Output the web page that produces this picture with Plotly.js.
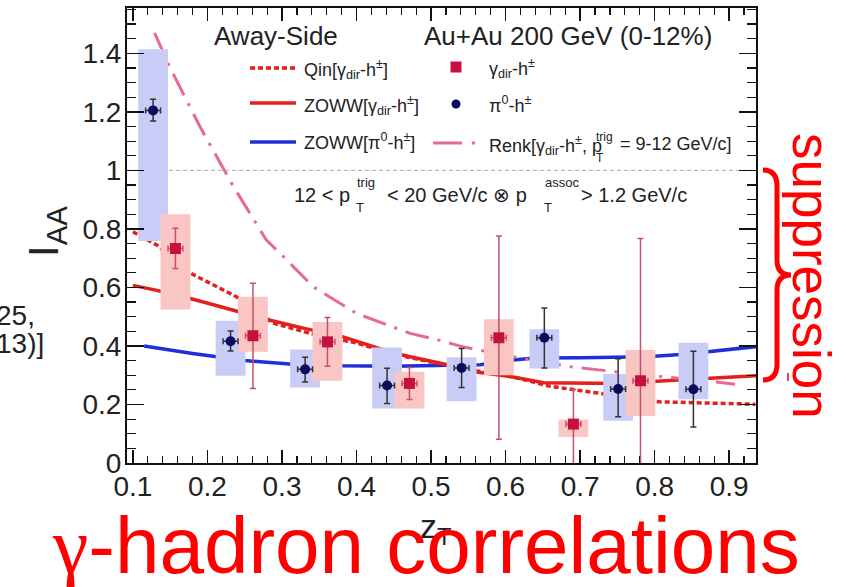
<!DOCTYPE html>
<html>
<head>
<meta charset="utf-8">
<script src="https://cdn.plot.ly/plotly-3.0.1.min.js"></script>
<style>html,body{margin:0;padding:0;background:#fff;}#chart{width:846px;height:587px;}</style>
</head>
<body>
<div id="chart"></div>
<script>
// ---------------- data ----------------
// pi0-h+- (navy circles)
const piZ      = [0.127, 0.231, 0.331, 0.441, 0.541, 0.652, 0.751, 0.852];
const piIAA    = [1.205, 0.416, 0.320, 0.265, 0.325, 0.428, 0.253, 0.252];
const piStatUp = [0.038, 0.035, 0.041, 0.059, 0.066, 0.102, 0.103, 0.130];
const piStatDn = [0.036, 0.033, 0.043, 0.062, 0.067, 0.103, 0.095, 0.129];
const piSysHi  = [1.414, 0.486, 0.388, 0.395, 0.361, 0.457, 0.304, 0.411];
const piSysLo  = [0.759, 0.298, 0.258, 0.186, 0.211, 0.323, 0.144, 0.218];
const piZErr   = [0.01, 0.01, 0.01, 0.01, 0.01, 0.01, 0.01, 0.01];

// gamma_dir-h+- (crimson squares)
const gZ      = [0.157, 0.261, 0.361, 0.471, 0.591, 0.691, 0.781];
const gIAA    = [0.733, 0.435, 0.414, 0.272, 0.428, 0.133, 0.281];
const gStatUp = [0.069, 0.179, 0.083, 0.054, 0.348, 0.118, 0.486];
const gStatDn = [0.068, 0.180, 0.083, 0.055, 0.347, 0.250, 0.400];
const gSysHi  = [0.850, 0.568, 0.482, 0.312, 0.491, 0.149, 0.386];
const gSysLo  = [0.525, 0.380, 0.281, 0.186, 0.300, 0.089, 0.161];
const gZErr   = [0.01, 0.01, 0.01, 0.01, 0.01, 0.01, 0.01];

// model curves
const qinZ  = [0.10, 0.132, 0.177, 0.208, 0.239, 0.288, 0.338, 0.40, 0.45, 0.50, 0.556, 0.61, 0.66, 0.727, 0.76, 0.807, 0.87, 0.935];
const qinI  = [0.79, 0.745, 0.649, 0.608, 0.568, 0.478, 0.443, 0.41, 0.372, 0.345, 0.317, 0.294, 0.262, 0.238, 0.225, 0.209, 0.205, 0.201];
const zgZ   = [0.10, 0.132, 0.177, 0.23, 0.284, 0.33, 0.382, 0.449, 0.525, 0.561, 0.61, 0.651, 0.70, 0.754, 0.825, 0.937];
const zgI   = [0.607, 0.59, 0.562, 0.525, 0.488, 0.46, 0.431, 0.376, 0.334, 0.311, 0.294, 0.274, 0.272, 0.272, 0.283, 0.298];
const zpZ   = [0.115, 0.18, 0.25, 0.31, 0.38, 0.45, 0.525, 0.566, 0.61, 0.64, 0.70, 0.79, 0.84, 0.937];
const zpI   = [0.40, 0.374, 0.35, 0.338, 0.332, 0.331, 0.334, 0.336, 0.352, 0.359, 0.36, 0.363, 0.372, 0.398];
const renkZ = [0.129, 0.15, 0.19, 0.235, 0.279, 0.30, 0.342, 0.40, 0.472, 0.512, 0.543, 0.61, 0.687, 0.727, 0.80, 0.861, 0.908];
const renkI = [1.47, 1.35, 1.149, 0.944, 0.762, 0.71, 0.602, 0.511, 0.443, 0.419, 0.397, 0.363, 0.329, 0.317, 0.297, 0.283, 0.269];

const xTickVals = [0.1, 0.2, 0.3, 0.4, 0.5, 0.6, 0.7, 0.8, 0.9];
const xTickText = ["0.1", "0.2", "0.3", "0.4", "0.5", "0.6", "0.7", "0.8", "0.9"];
const yTickVals = [0, 0.2, 0.4, 0.6, 0.8, 1, 1.2, 1.4];
const yTickText = ["0", "0.2", "0.4", "0.6", "0.8", "1", "1.2", "1.4"];

// ---------------- styling ----------------
const FONT = "Liberation Sans, Arial, Helvetica, sans-serif";
const C_RED = "#e3201b", C_BLUE = "#1f2fd6", C_PINK = "#e66a92";
const C_NAVY = "#0b0b5c", C_CRIM = "#c8103e";
const C_PBOX = "#f9c6c4", C_BBOX = "#c8ccf6";
const BOX_HW = 0.02;

// plot area in pixels
const L = 127, R = 756, T = 8, B = 463;
const px = x => (x - L) / (R - L);
const py = y => (B - y) / (B - T);

function boxTrace(zs, lo, hi, color) {
  const xs = [], ys = [];
  zs.forEach((z, i) => {
    xs.push(z - BOX_HW, z + BOX_HW, z + BOX_HW, z - BOX_HW, z - BOX_HW, null);
    ys.push(lo[i], lo[i], hi[i], hi[i], lo[i], null);
  });
  return {x: xs, y: ys, type: "scatter", mode: "lines", fill: "toself",
          fillcolor: color, line: {width: 0, color: color}, hoverinfo: "skip", showlegend: false};
}

const traces = [
  {x: zpZ, y: zpI, type: "scatter", mode: "lines", line: {color: C_BLUE, width: 3.5}, showlegend: false},
  {x: zgZ, y: zgI, type: "scatter", mode: "lines", line: {color: C_RED, width: 3.5}, showlegend: false},
  {x: qinZ, y: qinI, type: "scatter", mode: "lines", line: {color: C_RED, width: 3.5, dash: "5px,3px"}, showlegend: false},
  {x: renkZ, y: renkI, type: "scatter", mode: "lines", line: {color: C_PINK, width: 3, dash: "24px,9px,3px,9px"}, showlegend: false},
  boxTrace(piZ, piSysLo, piSysHi, C_BBOX),
  boxTrace(gZ, gSysLo, gSysHi, C_PBOX),
  {x: piZ, y: piIAA, type: "scatter", mode: "markers",
   marker: {symbol: "circle", size: 10, color: C_NAVY},
   error_y: {type: "data", array: piStatUp, arrayminus: piStatDn, color: "#333333", thickness: 1.5, width: 3},
   error_x: {type: "data", array: piZErr, color: "#333333", thickness: 1.5, width: 3},
   showlegend: false},
  {x: gZ, y: gIAA, type: "scatter", mode: "markers",
   marker: {symbol: "square", size: 11, color: C_CRIM},
   error_y: {type: "data", array: gStatUp, arrayminus: gStatDn, color: "#c4506c", thickness: 1.5, width: 3},
   error_x: {type: "data", array: gZErr, color: "#c4506c", thickness: 1.5, width: 3},
   showlegend: false}
];

function ann(text, x, y, o) {
  o = o || {};
  return Object.assign({text: text, x: px(x), y: py(y), xref: "paper", yref: "paper",
    showarrow: false, xanchor: o.xa || "left", yanchor: o.ya || "middle",
    textangle: o.angle || 0, borderpad: 0,
    font: {family: o.family || FONT, size: o.size || 18, color: o.color || "#222222"}}, o.extra || {});
}
function line(x0, y0, x1, y1, color, width, dash) {
  return {type: "line", xref: "paper", yref: "paper", x0: px(x0), y0: py(y0), x1: px(x1), y1: py(y1),
          line: {color: color, width: width, dash: dash || "solid"}};
}
function P(x, y) { return px(x).toFixed(5) + "," + py(y).toFixed(5); }

const bracePath = "M" + P(763, 170) + " Q" + P(777, 170) + " " + P(777, 186) +
  " L" + P(777, 260) + " Q" + P(777, 275) + " " + P(791, 275) +
  " Q" + P(777, 275) + " " + P(777, 290) + " L" + P(777, 364) +
  " Q" + P(777, 380) + " " + P(763, 380);

const shapes = [
  {type: "line", xref: "paper", yref: "y", x0: 0, x1: 1, y0: 1, y1: 1, layer: "below",
   line: {color: "#bbbbbb", width: 1.2, dash: "4px,3px"}},
  // legend samples
  line(250, 68, 296, 68, C_RED, 3.5, "5px,3px"),
  line(250, 103, 296, 103, C_RED, 3.5),
  line(250, 142, 296, 142, C_BLUE, 3.5),
  line(433, 143, 462, 143, C_PINK, 3),
  line(472, 143, 475, 143, C_PINK, 3),
  {type: "rect", xref: "paper", yref: "paper", x0: px(450.5), x1: px(461.5), y0: py(72.5), y1: py(61.5),
   fillcolor: C_CRIM, line: {width: 0}},
  {type: "circle", xref: "paper", yref: "paper", x0: px(451.5), x1: px(460.5), y0: py(108.5), y1: py(99.5),
   fillcolor: C_NAVY, line: {width: 0}},
  // brace
  {type: "path", xref: "paper", yref: "paper", path: bracePath, line: {color: "#ff0000", width: 5}},
  line(788, 373, 788, 381, "#ff0000", 1.5)
];

const annotations = [
  ann("Away-Side", 213, 36, {size: 26}),
  ann("Au+Au 200 GeV (0-12%)", 713, 36, {size: 26, xa: "right"}),
  ann("Qin[γ<sub>dir</sub>-h<sup>±</sup>]", 303, 70, {size: 18}),
  ann("ZOWW[γ<sub>dir</sub>-h<sup>±</sup>]", 303, 105, {size: 18}),
  ann("ZOWW[π<sup>0</sup>-h<sup>±</sup>]", 303, 142, {size: 18}),
  ann("γ<sub>dir</sub>-h<sup>±</sup>", 488, 69, {size: 18}),
  ann("π<sup>0</sup>-h<sup>±</sup>", 488, 104, {size: 18}),
  ann("Renk[γ<sub>dir</sub>-h<sup>±</sup>, p", 488, 145, {size: 18}),
  ann("T", 595, 158, {size: 12}),
  ann("trig", 595, 137, {size: 12}),
  ann("= 9-12 GeV/c]", 733, 144, {size: 18, xa: "right"}),
  // kinematic cut text
  ann("12 &lt; p", 293, 195, {size: 20}),
  ann("T", 355, 207, {size: 13}),
  ann("trig", 356, 182, {size: 13}),
  ann("&lt; 20 GeV/c ⊗ p", 386, 195, {size: 20}),
  ann("T", 543, 207, {size: 13}),
  ann("assoc", 544, 182, {size: 13}),
  ann("&gt; 1.2 GeV/c", 688, 195, {size: 20, xa: "right"}),
  // axis titles
  ann("I<sub>AA</sub>", 46, 232, {size: 42, xa: "center", angle: -90}),
  ann("z<sub>T</sub>", 436, 528, {size: 34, xa: "center"}),
  // cut-off text at left
  ann("25,", 36, 315, {size: 28, xa: "right"}),
  ann("13)]", 45, 343, {size: 28, xa: "right"}),
  // overlay red texts
  ann("<span style=\"font-family:Liberation Serif\">γ</span>-hadron correlations", 426, 545,
      {size: 80, xa: "center", color: "#ff0000"}),
  ann("suppression", 812, 276, {size: 53, xa: "center", angle: 90, color: "#ff0000"})
];

const axisCommon = {
  showline: true, linecolor: "#111111", linewidth: 2, mirror: "ticks",
  ticks: "inside", tickcolor: "#111111", tickwidth: 1.5,
  showgrid: false, zeroline: false,
  tickfont: {family: FONT, size: 28, color: "#222222"}
};

const layout = {
  width: 846, height: 587,
  margin: {l: L, r: 846 - R, t: T, b: 587 - B, pad: 0},
  paper_bgcolor: "#ffffff", plot_bgcolor: "#ffffff",
  showlegend: false,
  xaxis: Object.assign({}, axisCommon, {range: [0.092, 0.936], tickvals: xTickVals, ticktext: xTickText,
    ticklen: 13, ticklabelstandoff: -3,
    minor: {dtick: 0.02, tick0: 0, ticks: "inside", ticklen: 7, tickcolor: "#111111", tickwidth: 1.2}}),
  yaxis: Object.assign({}, axisCommon, {range: [0, 1.555], tickvals: yTickVals, ticktext: yTickText,
    ticklen: 17, ticklabelstandoff: -2,
    minor: {dtick: 0.05, tick0: 0, ticks: "inside", ticklen: 9, tickcolor: "#111111", tickwidth: 1.2}}),
  shapes: shapes,
  annotations: annotations
};

Plotly.newPlot("chart", traces, layout, {staticPlot: true, displayModeBar: false});
</script>
</body>
</html>
